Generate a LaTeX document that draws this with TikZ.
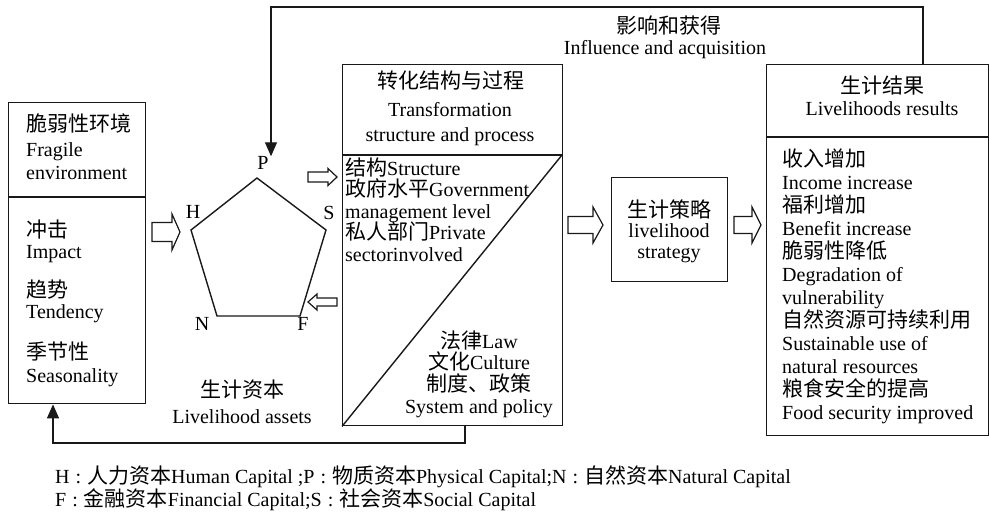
\documentclass[tikz,border=0pt]{standalone}
\usepackage{fontspec}
\setmainfont{Liberation Serif}
\newfontfamily\zhfont{Noto Sans CJK SC}[Scale=1.05]
\newcommand\zh[1]{{\zhfont #1}}
\newcommand\colsep{\hspace{6pt}:\hspace{6pt}}
\usetikzlibrary{arrows.meta}
\tikzset{
  ln/.style={draw=black!90, line width=1.4pt},
  boxx/.style={draw=black!90, line width=1.4pt, inner sep=0pt, anchor=north west},
  txt/.style={inner sep=0pt, font=\fontsize{20}{23}\selectfont, text=black},
  blk/.style={draw=black!90, line width=1.2pt, fill=white},
  fb/.style={draw=black!90, line width=1.3pt, -{Triangle[length=14pt,width=12pt]}},
}
% #1 x tail, #2 y centre, #3 length, #4 shaft half, #5 head half, #6 head length, #7 direction
\newcommand\barrow[7]{%
  \begin{scope}[shift={(#1,#2)},xscale=#7]
    \draw[blk] (0,-#4) -- (#3-#6,-#4) -- (#3-#6,-#5) -- (#3,0) -- (#3-#6,#5) -- (#3-#6,#4) -- (0,#4) -- cycle;
  \end{scope}}
% #1 name prefix, #2 anchor, #3 x, #4 first baseline, #5 step, #6 list
\newcommand\txtlines[6]{%
  \foreach \t [count=\i] in {#6} {\node[txt, anchor=#2] (#1\i) at ({#3},{#4+(\i-1)*#5}) {\t};}}
\begin{document}
\begin{tikzpicture}[x=1pt,y=-1pt]
\useasboundingbox (0,0) rectangle (990,520);
\fill[white] (0,0) rectangle (990,520);

% boxes
\node[boxx, minimum width=137pt, minimum height=301pt] (env) at (8,102) {};
\draw[ln] (8,197) -- (145,197);
\node[boxx, minimum width=220pt, minimum height=361pt] (mid) at (342,64) {};
\draw[ln] (342,155) -- (562,155);
\draw[ln] (mid.south west) -- (562,155);
\node[boxx, minimum width=116pt, minimum height=104pt] (str) at (611,177) {};
\node[boxx, minimum width=222pt, minimum height=371pt] (res) at (766,64) {};
\draw[ln] (766,137) -- (988,137);

% pentagon
\coordinate (vP) at (257,178);
\coordinate (vS) at (326,230);
\coordinate (vF) at (300,316);
\coordinate (vN) at (217,316);
\coordinate (vH) at (191,230);
\draw[ln, line join=miter] (vP) -- (vS) -- (vF) -- (vN) -- (vH) -- cycle;
\node[txt] (lP) at (263,163) {P};
\node[txt] (lH) at (193,212) {H};
\node[txt] (lS) at (329,213) {S};
\node[txt] (lN) at (202,324) {N};
\node[txt] (lF) at (303,324) {F};
\node[txt, anchor=base] (ca1) at (242,397) {\zh{生计资本}};
\node[txt, anchor=base] (ca2) at (242,423) {Livelihood assets};

% left box text
\node[txt, anchor=base west] (e1) at (26,131) {\zh{脆弱性环境}};
\node[txt, anchor=base west] (e2) at (26,156) {Fragile};
\node[txt, anchor=base west] (e3) at (26,179) {environment};
\node[txt, anchor=base west] (e4) at (26,237) {\zh{冲击}};
\node[txt, anchor=base west] (e5) at (26,258) {Impact};
\node[txt, anchor=base west] (e6) at (26,297) {\zh{趋势}};
\node[txt, anchor=base west] (e7) at (26,318) {Tendency};
\node[txt, anchor=base west] (e8) at (26,359) {\zh{季节性}};
\node[txt, anchor=base west] (e9) at (26,382) {Seasonality};

% middle box text
\node[txt, anchor=base] (m1) at (451,88) {\zh{转化结构与过程}};
\node[txt, anchor=base] (m2) at (450,116) {Transformation};
\node[txt, anchor=base] (m3) at (450,141) {structure and process};
\txtlines{ms}{base west}{345}{175}{21.5}{{\zh{结构}Structure},{\zh{政府水平}Government},{management level},{\zh{私人部门}Private},{sectorinvolved}}
\txtlines{ml}{base}{479}{348}{21.7}{{\zh{法律}Law},{\zh{文化}Culture},{\zh{制度、政策}},{System and policy}}

% strategy
\txtlines{st}{base}{669}{217}{20.5}{{\zh{生计策略}},{livelihood},{strategy}}

% results
\node[txt, anchor=base] (r1) at (882,93) {\zh{生计结果}};
\node[txt, anchor=base] (r2) at (882,115) {Livelihoods results};
\txtlines{rs}{base west}{782}{166}{23}{{\zh{收入增加}},{Income increase},{\zh{福利增加}},{Benefit increase},{\zh{脆弱性降低}},{Degradation of},{vulnerability},{\zh{自然资源可持续利用}},{Sustainable use of},{natural resources},{\zh{粮食安全的提高}},{Food security improved}}

% top label
\node[txt, anchor=base] (t1) at (669,33) {\zh{影响和获得}};
\node[txt, anchor=base] (t2) at (665,54) {Influence and acquisition};

% block arrows
\barrow{152}{232}{28}{9.5}{18}{8}{1}
\barrow{308}{177}{29}{5}{8.5}{9}{1}
\barrow{337}{302}{29}{4}{8}{9}{-1}
\barrow{568}{225}{35}{8.5}{18}{10}{1}
\barrow{734}{225}{27}{8.5}{18}{9}{1}

% feedback connectors
\coordinate (tR) at (923,7);
\coordinate (tL) at (271,7);
\draw[fb] (res.north -| tR) -- (tR) -- (tL) -- (lP.north -| tL);
\coordinate (bR) at (465,443);
\coordinate (bL) at (53,443);
\draw[fb] (mid.south -| bR) -- (bR) -- (bL) -- (env.south -| bL);

% legend
\node[txt, anchor=base west] (lg1) at (55,483) {H\colsep\zh{人力资本}Human Capital ;P\colsep\zh{物质资本}Physical Capital;N\colsep\zh{自然资本}Natural Capital};
\node[txt, anchor=base west] (lg2) at (55,506) {F\colsep\zh{金融资本}Financial Capital;S\colsep\zh{社会资本}Social Capital};
\end{tikzpicture}
\end{document}
